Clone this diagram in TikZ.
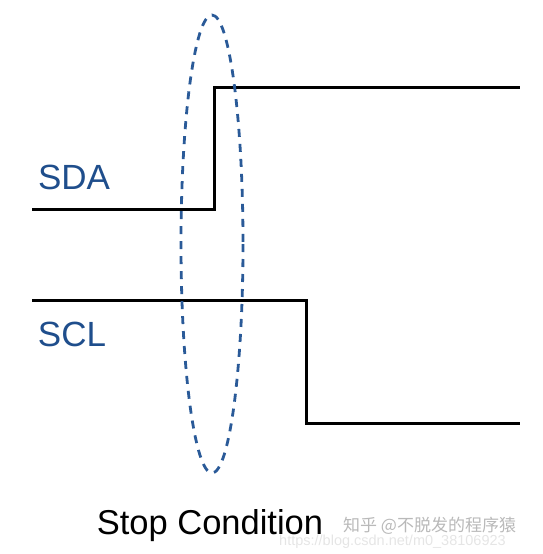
\documentclass[tikz,border=0pt]{standalone}
\usepackage{fontspec}
\setmainfont{Liberation Sans}
\newfontfamily\cjk{Noto Sans CJK SC}
\definecolor{sigblue}{HTML}{1F4E8C}
\definecolor{ellblue}{HTML}{2A5A98}
\tikzset{
  sig/.style={line width=3pt, line join=miter, black},
  lbl/.style={text=sigblue, font=\fontsize{35}{40}\selectfont, inner sep=0pt},
  captext/.style={text=black, font=\fontsize{34.5}{40}\selectfont, inner sep=0pt},
  wm/.style={text=gray!55, font=\cjk\fontsize{17}{20}\selectfont, inner sep=0pt},
  wmtwo/.style={text=gray!20, font=\fontsize{14.5}{17}\selectfont, inner sep=0pt},
  ell/.style={draw=ellblue, line width=2.8pt, dash pattern=on 8pt off 7pt}
}
\begin{document}
\begin{tikzpicture}[x=1pt,y=-1pt]
\useasboundingbox (0,0) rectangle (543,554);
% SDA
\coordinate (sda0) at (32,209);
\coordinate (sda1) at (214,209);
\coordinate (sda2) at (214,87);
\coordinate (sda3) at (520,87);
\draw[sig] (sda0) -- (sda1) -- (sda2) -- (sda3);
% SCL
\coordinate (scl0) at (32,300);
\coordinate (scl1) at (306,300);
\coordinate (scl2) at (306,423);
\coordinate (scl3) at (520,423);
\draw[sig] (scl0) -- (scl1) -- (scl2) -- (scl3);
% ellipse
\coordinate (ec) at (212,244);
\draw[ell] (ec) ellipse [x radius=31, y radius=229];
% labels
\node[lbl] (sdalbl) at (74,177) {SDA};
\node[lbl] (scllbl) at (72,334) {SCL};
\node[captext] (stop) at (210,526) {Stop Condition};
\node[wmtwo, anchor=west] (csdn) at (279,542) {https://blog.csdn.net/m0\_38106923};
\node[wm, anchor=west] (zhihu) at (343,526) {知乎 @不脱发的程序猿};
\end{tikzpicture}
\end{document}
